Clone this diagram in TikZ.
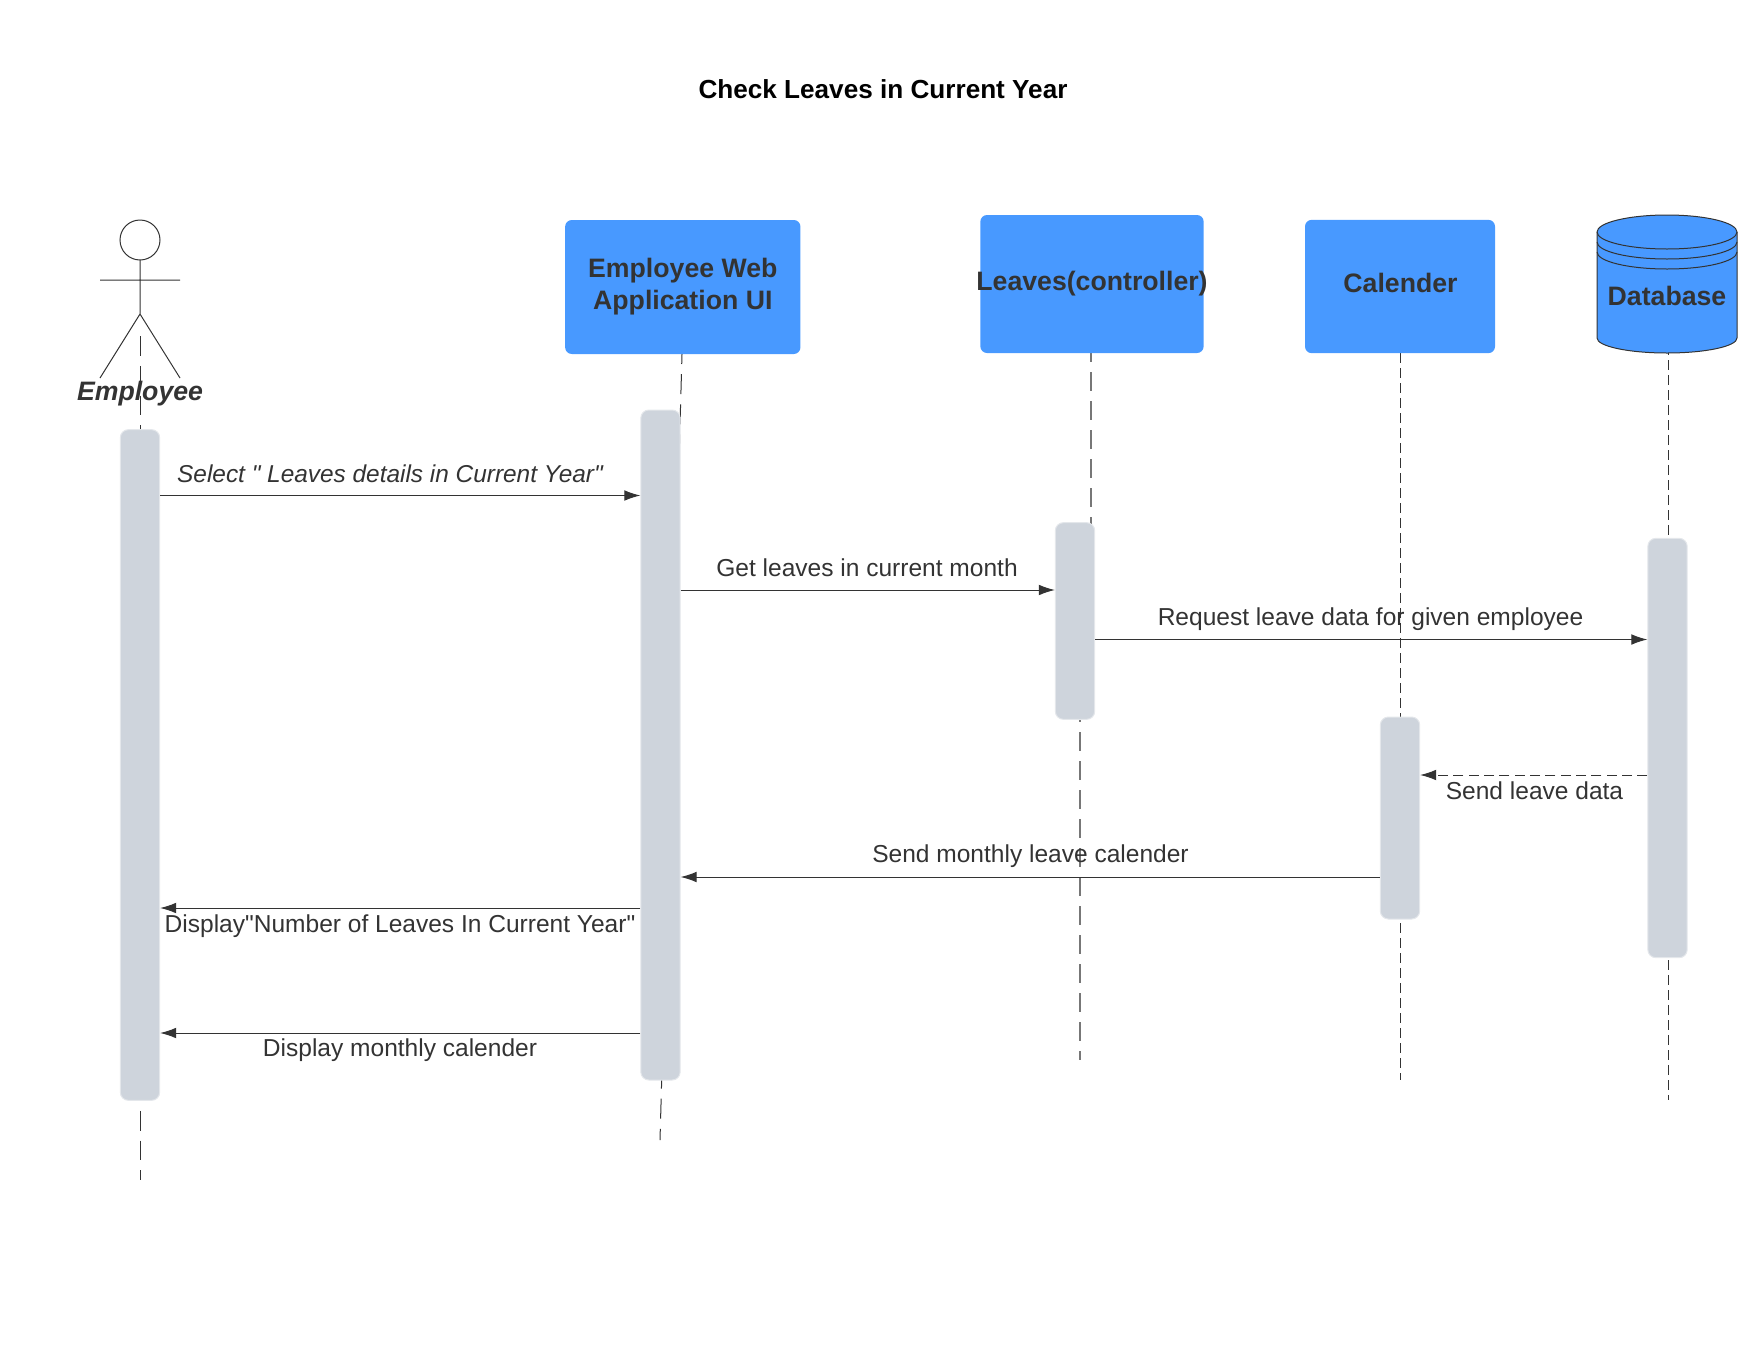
\documentclass[tikz,border=0pt]{standalone}
\usepackage{fontspec}
\setmainfont{Liberation Sans}[Ligatures=TeXOff]
\usetikzlibrary{arrows.meta}

\definecolor{boxblue}{HTML}{4899FF}
\definecolor{barfill}{HTML}{CED4DC}
\definecolor{baredge}{HTML}{E4E7EB}
\definecolor{inktext}{HTML}{333333}
\definecolor{lifegray}{HTML}{777777}

\tikzset{
    lifeblock/.style={rectangle, rounded corners=5pt, fill=boxblue, text=inktext, font=\fontsize{20}{24}\selectfont\bfseries, align=center, inner sep=0pt},
    activation/.style={rectangle, rounded corners=6pt, fill=barfill, draw=baredge, line width=0.75pt, inner sep=0pt, minimum width=29.5pt},
    longdash/.style={inktext, line width=0.75pt, dash pattern=on 14.85pt off 7.5pt},
    shortdash/.style={inktext, line width=0.75pt, dash pattern=on 7.5pt off 3.75pt},
    message/.style={inktext, line width=0.75pt, -{Latex[length=12pt, width=8pt]}},
    reply/.style={message, dash pattern=on 7.5pt off 4pt},
    msgtext/.style={text=inktext, font=\fontsize{18.4}{22}\selectfont, inner sep=0pt}
}

\begin{document}
\begin{tikzpicture}[x=0.75pt, y=-0.75pt]
    \useasboundingbox (0,0) rectangle (1760,1360);
    \node[font=\fontsize{19.6}{24}\selectfont\bfseries] (title) at (883,89) {Check Leaves in Current Year};

    % lifelines first, the bars go on top
    \coordinate (emptop) at (140.5,336);
    \coordinate (empend) at (140.5,1180);
    \coordinate (uitop) at (682,354);
    \coordinate (uiend) at (660,1140);
    \coordinate (ctltop) at (1091,353);
    \coordinate (ctlbend) at (1091,620);
    \coordinate (ctlback) at (1080,703);
    \coordinate (ctlend) at (1080,1060);
    \coordinate (caltop) at (1400.5,353);
    \coordinate (calend) at (1400.5,1080);
    \coordinate (dbtop) at (1668.5,353);
    \coordinate (dbend) at (1668.5,1100);
    \draw[longdash] (emptop) -- (empend);
    \draw[longdash, dash pattern=on 15pt off 7.65pt, dash phase=7.5pt] (uitop) -- (uiend);
    \draw[longdash, lifegray, line width=1pt, dash pattern=on 14.25pt off 7.5pt, dash phase=7.2pt] (ctltop) -- (ctlbend);
    \draw[longdash, lifegray, line width=1pt, dash pattern=on 14.25pt off 7.5pt] (ctlback) -- (ctlend);
    \draw[shortdash] (caltop) -- (calend);
    \draw[shortdash, dash phase=6pt] (dbtop) -- (dbend);

    % the actor
    \draw[inktext, line width=0.75pt] (140,240) circle (20);
    \draw[inktext, line width=0.75pt] (140,260) -- (140,314) (100,280) -- (180,280) (100,378) -- (140,314) -- (180,378);
    \node[font=\fontsize{20}{24}\selectfont\bfseries\itshape, text=inktext] (employee) at (140,393.5) {Employee};

    % head boxes
    \node[lifeblock, minimum width=176.5pt, minimum height=100.5pt] (webui) at (682.8,287) {Employee Web\\Application UI};
    \node[lifeblock, minimum width=167.5pt, minimum height=103.5pt] (controller) at (1092,284) {};
    \node[font=\fontsize{20}{24}\selectfont\bfseries, text=inktext] (ctltext) at (1092,283.5) {Leaves(controller)};
    \node[lifeblock, minimum width=142.5pt, minimum height=100pt] (calender) at (1400,286.5) {};
    \node[font=\fontsize{20}{24}\selectfont\bfseries, text=inktext] (caltext) at (1400.5,283) {Calender};

    % database
    \draw[inktext, fill=boxblue, line width=0.75pt] (1597,232) arc (180:360:70 and 17) -- (1737,338) arc (0:180:70 and 15) -- cycle;
    \draw[inktext, line width=0.75pt] (1597,232) arc (180:0:70 and 17);
    \draw[inktext, line width=0.75pt] (1597,242) arc (180:0:70 and 17);
    \draw[inktext, line width=0.75pt] (1597,252) arc (180:0:70 and 17);
    \node[font=\fontsize{20}{24}\selectfont\bfseries, text=inktext] (database) at (1667,296) {Database};

    % activation bars
    \node[activation, minimum height=503pt] (empbar) at (140,765) {};
    \node[activation, minimum height=502.5pt] (uibar) at (660.5,745) {};
    \node[activation, minimum height=147.5pt] (ctlbar) at (1075,621) {};
    \node[activation, minimum height=151.5pt] (calbar) at (1400,818) {};
    \node[activation, minimum height=314.5pt] (dbbar) at (1667.5,748) {};

    % messages
    \draw[message] (empbar.east |- 0,495.5) -- (uibar.west |- 0,495.5);
    \node[msgtext, font=\fontsize{18.3}{22}\selectfont\itshape] (m1) at (390,474) {Select " Leaves details in Current Year"};
    \draw[message] (uibar.east |- 0,590) -- (ctlbar.west |- 0,590);
    \node[msgtext] (m2) at (867,568) {Get leaves in current month};
    \draw[message] (ctlbar.east |- 0,639.5) -- (dbbar.west |- 0,639.5);
    \node[msgtext] (m3) at (1370.5,619.5) {Request leave data for given employee};
    \draw[reply] (dbbar.west |- 0,775) -- (calbar.east |- 0,775);
    \node[msgtext] (m4) at (1534.5,790.5) {Send leave data};
    \draw[message] (calbar.west |- 0,877) -- (uibar.east |- 0,877);
    \node[msgtext] (m5) at (1030.5,856.5) {Send monthly leave calender};
    \draw[message] (uibar.west |- 0,908) -- (empbar.east |- 0,908);
    \node[msgtext] (m6) at (400,926.5) {Display"Number of Leaves In Current Year"};
    \draw[message] (uibar.west |- 0,1033) -- (empbar.east |- 0,1033);
    \node[msgtext] (m7) at (400,1050.5) {Display monthly calender};
\end{tikzpicture}
\end{document}
